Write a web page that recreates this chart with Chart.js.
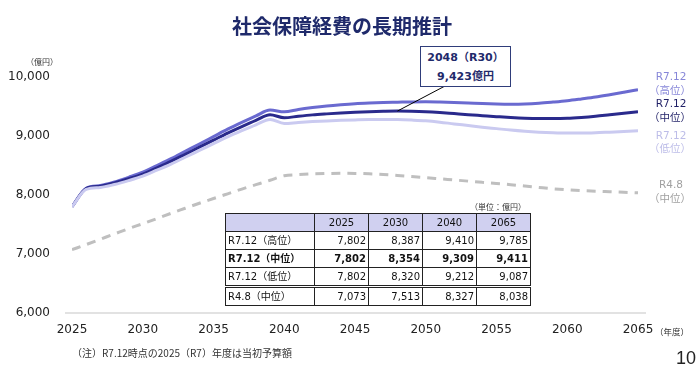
<!DOCTYPE html>
<html lang="ja">
<head>
    <meta charset="UTF-8">
    <title>社会保障経費の長期推計</title>
    <script src="https://cdn.jsdelivr.net/npm/chart.js"></script>
    <style>
        body {
            margin: 0;
            padding: 0;
            background: #fff;
            font-family: "DejaVu Sans", "Noto Sans CJK JP", sans-serif;
        }
        .wrap {
            position: relative;
            width: 700px;
            height: 391px;
            overflow: hidden;
        }
        .abs {
            position: absolute;
            white-space: nowrap;
        }
        .title {
            left: 0;
            width: 684px;
            top: 12px;
            text-align: center;
            font-family: "Noto Sans CJK JP", sans-serif;
            font-weight: bold;
            font-size: 20px;
            color: #1f2a6b;
            line-height: 28px;
        }
        .callout {
            left: 420px;
            top: 46px;
            width: 89px;
            height: 38px;
            border: 1.5px solid #2f3d7a;
            background: #fff;
            text-align: center;
            font-weight: bold;
            font-size: 11px;
            color: #1f2a6b;
            line-height: 19px;
            padding-top: 1px;
        }
        .unit {
            font-family: "Noto Sans CJK JP", sans-serif;
            font-size: 8px;
            color: #333;
        }
        table.data {
            position: absolute;
            left: 225px;
            top: 213px;
            border-collapse: collapse;
            font-size: 10px;
            color: #111;
        }
        table.data td {
            border: 1.5px solid #222;
            height: 17px;
            padding: 0 2px;
            text-align: right;
            line-height: 17px;
        }
        table.data td.name {
            text-align: left;
            width: 84px;
        }
        table.data td.num {
            width: 49px;
        }
        table.data tr.head td {
            background: #d0d0f0;
            text-align: center;
        }
        table.data tr.bold td {
            font-weight: bold;
        }
        table.data tr.sep td {
            border-top: 3px double #222;
        }
        .note {
            left: 72px;
            top: 345px;
            font-family: "Noto Sans CJK JP", sans-serif;
            font-size: 10px;
            color: #333;
        }
        .page {
            left: 676px;
            top: 348px;
            font-family: "Liberation Sans", sans-serif;
            font-size: 18px;
            color: #222;
        }
    </style>
</head>
<body>
<div class="wrap">
    <canvas id="chart" width="700" height="391"></canvas>
    <div class="abs title">社会保障経費の長期推計</div>
    <div class="abs unit" style="left:26px; top:56px;">（億円）</div>
    <div class="abs unit" style="left:655px; top:325px; font-size:8.5px;">（年度）</div>
    <div class="abs unit" style="left:470px; top:201px;">（単位：億円）</div>
    <div class="abs callout">2048（R30）<br>9,423億円</div>
    <table class="data" id="dataTable"></table>
    <div class="abs note">（注）R7.12時点の2025（R7）年度は当初予算額</div>
    <div class="abs page">10</div>
</div>

<script>
    // years on the x axis
    const years = [2025, 2026, 2027, 2028, 2029, 2030, 2031, 2032, 2033, 2034,
                   2035, 2036, 2037, 2038, 2039, 2040, 2041, 2042, 2043, 2044,
                   2045, 2046, 2047, 2048, 2049, 2050, 2051, 2052, 2053, 2054,
                   2055, 2056, 2057, 2058, 2059, 2060, 2061, 2062, 2063, 2064, 2065];

    // R7.12 high case
    const highVals = [7802, 8115, 8160, 8220, 8300, 8387, 8500, 8615, 8740, 8865,
                      8990, 9115, 9230, 9340, 9440, 9410, 9450, 9482, 9509, 9530,
                      9547, 9558, 9566, 9572, 9578, 9580, 9576, 9569, 9560, 9550,
                      9543, 9540, 9543, 9555, 9575, 9598, 9628, 9660, 9700, 9742, 9785];

    // R7.12 middle case
    const midVals = [7802, 8110, 8150, 8205, 8275, 8354, 8460, 8570, 8690, 8810,
                     8930, 9050, 9160, 9265, 9360, 9309, 9335, 9358, 9375, 9390,
                     9402, 9412, 9419, 9423, 9420, 9412, 9398, 9380, 9362, 9345,
                     9328, 9312, 9300, 9295, 9295, 9300, 9315, 9335, 9360, 9385, 9411];

    // R7.12 low case
    const lowVals = [7802, 8095, 8128, 8178, 8244, 8320, 8420, 8525, 8640, 8755,
                     8870, 8985, 9090, 9190, 9281, 9212, 9230, 9245, 9256, 9265,
                     9272, 9278, 9280, 9278, 9270, 9258, 9235, 9205, 9178, 9150,
                     9125, 9100, 9080, 9065, 9055, 9050, 9050, 9055, 9065, 9075, 9087];

    // R4.8 middle case (dashed)
    const r48Vals = [7073, 7160, 7250, 7340, 7430, 7513, 7600, 7690, 7775, 7860,
                     7940, 8020, 8100, 8175, 8250, 8327, 8345, 8357, 8364, 8367,
                     8366, 8360, 8348, 8332, 8314, 8295, 8275, 8255, 8235, 8215,
                     8195, 8175, 8152, 8128, 8105, 8088, 8075, 8064, 8055, 8046, 8038];

    // table
    const tableYears = ['2025', '2030', '2040', '2065'];
    const tableNames = ['R7.12（高位）', 'R7.12（中位）', 'R7.12（低位）', 'R4.8（中位）'];
    const tableHigh = ['7,802', '8,387', '9,410', '9,785'];
    const tableMid = ['7,802', '8,354', '9,309', '9,411'];
    const tableLow = ['7,802', '8,320', '9,212', '9,087'];
    const tableR48 = ['7,073', '7,513', '8,327', '8,038'];

    const seriesLabels = [
        ['R7.12', '（高位）'],
        ['R7.12', '（中位）'],
        ['R7.12', '（低位）'],
        ['R4.8', '（中位）']
    ];

    function buildTable() {
        const t = document.getElementById('dataTable');
        let html = '<tr class="head"><td class="name"></td>';
        tableYears.forEach(y => { html += `<td class="num">${y}</td>`; });
        html += '</tr>';
        const rows = [tableHigh, tableMid, tableLow, tableR48];
        rows.forEach((r, i) => {
            let cls = '';
            if (i === 1) cls = 'bold';
            if (i === 3) cls = 'sep';
            html += `<tr class="${cls}"><td class="name">${tableNames[i]}</td>`;
            r.forEach(v => { html += `<td class="num">${v}</td>`; });
            html += '</tr>';
        });
        t.innerHTML = html;
    }
    buildTable();

    function toPoints(vals) {
        return years.map((y, i) => ({ x: y, y: vals[i] }));
    }

    // baseline, callout leader and end labels
    const extras = {
        id: 'extras',
        beforeDatasetsDraw(chart) {
            const ctx = chart.ctx;
            const ys = chart.scales.y.getPixelForValue(6000);
            ctx.save();
            ctx.strokeStyle = '#d9d9d9';
            ctx.lineWidth = 1.5;
            ctx.beginPath();
            ctx.moveTo(chart.chartArea.left - 7, ys);
            ctx.lineTo(chart.chartArea.right + 8, ys);
            ctx.stroke();
            ctx.restore();
        },
        afterDatasetsDraw(chart) {
            const ctx = chart.ctx;
            ctx.save();
            // leader line from 2048 middle point to callout box
            const px = chart.scales.x.getPixelForValue(2048);
            const py = chart.scales.y.getPixelForValue(9423);
            ctx.strokeStyle = '#000';
            ctx.lineWidth = 1;
            ctx.beginPath();
            ctx.moveTo(px, py);
            ctx.lineTo(445, 86);
            ctx.stroke();

            // end labels
            const offs = [[-12, 2], [-7, 7], [5, 18], [-7, 7]];
            ctx.font = '10.5px "DejaVu Sans", "Noto Sans CJK JP", sans-serif';
            ctx.textAlign = 'center';
            ctx.textBaseline = 'middle';
            chart.data.datasets.forEach((ds, i) => {
                const meta = chart.getDatasetMeta(i);
                const last = meta.data[meta.data.length - 1];
                ctx.fillStyle = ds.labelColor;
                ctx.fillText(seriesLabels[i][0], 671, last.y + offs[i][0]);
                ctx.fillText(seriesLabels[i][1], 670, last.y + offs[i][1]);
            });
            ctx.restore();
        }
    };

    const ctx = document.getElementById('chart').getContext('2d');
    new Chart(ctx, {
        type: 'line',
        data: {
            datasets: [
                {
                    label: 'R7.12（高位）',
                    data: toPoints(highVals),
                    borderColor: '#6a6ad0',
                    labelColor: '#8686d8',
                    borderWidth: 3,
                    order: 2
                },
                {
                    label: 'R7.12（中位）',
                    data: toPoints(midVals),
                    borderColor: '#2a2a8c',
                    labelColor: '#1f1f66',
                    borderWidth: 3,
                    order: 1
                },
                {
                    label: 'R7.12（低位）',
                    data: toPoints(lowVals),
                    borderColor: '#cacaf0',
                    labelColor: '#bdbde8',
                    borderWidth: 3,
                    order: 0
                },
                {
                    label: 'R4.8（中位）',
                    data: toPoints(r48Vals),
                    borderColor: '#bfbfbf',
                    labelColor: '#a0a0a0',
                    borderWidth: 3,
                    borderDash: [9, 7],
                    order: 3
                }
            ]
        },
        options: {
            responsive: false,
            animation: false,
            events: [],
            elements: {
                point: { radius: 0 },
                line: { cubicInterpolationMode: 'monotone', borderCapStyle: 'butt' }
            },
            layout: {
                padding: { top: 77, left: 0, right: 62, bottom: 48 }
            },
            plugins: {
                legend: { display: false },
                tooltip: { enabled: false }
            },
            scales: {
                x: {
                    type: 'linear',
                    min: 2025,
                    max: 2065,
                    grid: { display: false, drawTicks: false },
                    border: { display: false },
                    afterFit: (s) => { s.height = 30; },
                    ticks: {
                        stepSize: 5,
                        padding: 10,
                        color: '#222',
                        font: { family: 'DejaVu Sans', size: 12 },
                        callback: (v) => String(v)
                    }
                },
                y: {
                    min: 6000,
                    max: 10000,
                    grid: { display: false, drawTicks: false },
                    border: { display: false },
                    afterFit: (s) => { s.width = 72; },
                    ticks: {
                        stepSize: 1000,
                        padding: 22,
                        color: '#222',
                        font: { family: 'DejaVu Sans', size: 12 },
                        callback: (v) => v.toLocaleString('en-US')
                    }
                }
            }
        },
        plugins: [extras]
    });
</script>
</body>
</html>
